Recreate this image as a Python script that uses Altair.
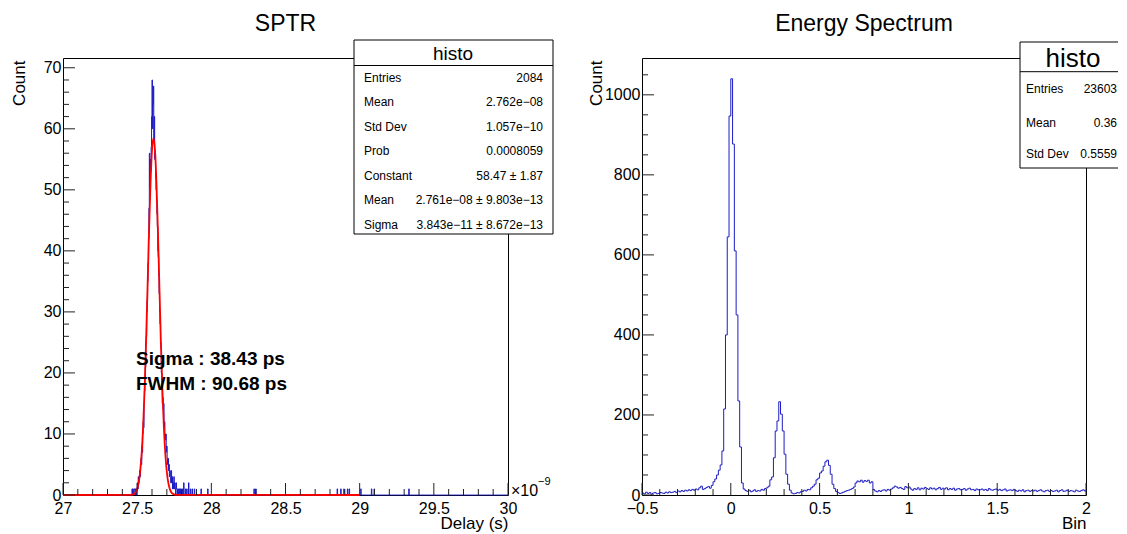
import altair as alt
import pandas as pd

FONT = "Liberation Sans"
HIST_BLUE = "#1c1cc4"
FIT_RED = "#ff0000"
INK = "#000000"

# ---------------- SPTR (left panel) data ----------------
sptr_range = [27.0, 30.0]          # x10^-9 s
sptr_bin_width = 0.003
sptr_peak_first_bin = 27.465
sptr_peak_counts = [
    1, 0, 1, 0, 0, 1, 1, 0, 1, 0,          # 27.465 ...
    1, 1, 2, 1, 3, 2, 3, 4, 3, 5,          # 27.495 ...
    6, 5, 8, 7, 10, 12, 11, 15, 17, 19,    # 27.525 ...
    21, 25, 26, 30, 32, 35, 38, 42, 47, 56, # 27.555 ...
    50, 55, 53, 57, 62, 68, 60, 64, 67, 58, # 27.585 ...
    62, 55, 56, 52, 50, 48, 46, 44, 40, 39, # 27.615 ...
    36, 33, 30, 28, 25, 24, 20, 18, 15, 16, # 27.645 ...
    14, 15, 11, 12, 10, 9, 10, 7, 8, 6,     # 27.675 ...
    5, 6, 4, 5, 3, 4, 3, 2, 4, 2,           # 27.705 ...
    3, 1, 2, 1, 3, 1, 2, 1, 0, 2,           # 27.735 ...
    1, 1, 0, 1, 0, 1, 1, 0, 1, 0, 1,        # 27.765 ...
]
sptr_tail_x = [27.804, 27.813, 27.825, 27.834, 27.846, 27.858, 27.870, 27.885,
               27.930, 27.975, 28.287, 28.299, 28.848, 28.872, 28.893, 28.917,
               28.929, 29.007, 29.079, 29.097, 29.331]
sptr_tail_counts = [1, 2, 1, 1, 2, 1, 1, 1, 1, 1, 1, 1, 1, 1, 1, 1, 1, 1, 1, 1, 1]

# Gaussian fit curve (red)
fit_x = [27.00, 27.45, 27.46, 27.47, 27.48, 27.49, 27.50, 27.51, 27.52, 27.53,
         27.54, 27.55, 27.56, 27.57, 27.58, 27.59, 27.60, 27.61, 27.62, 27.63,
         27.64, 27.65, 27.66, 27.67, 27.68, 27.69, 27.70, 27.71, 27.72, 27.73,
         27.74, 27.75, 27.76, 27.77, 29.00]
fit_y = [0.0, 0.01, 0.03, 0.08, 0.19, 0.45, 0.97, 1.98, 3.77, 6.70,
         11.13, 17.28, 25.08, 34.02, 43.12, 51.07, 56.52, 58.47, 56.52, 51.07,
         43.12, 34.02, 25.08, 17.28, 11.13, 6.70, 3.77, 1.98, 0.97, 0.45,
         0.19, 0.08, 0.03, 0.01, 0.0]

# ---------------- Energy spectrum (right panel) data ----------------
spec_range = [-0.5, 2.0]
spec_bin_width = 0.01
spec_counts = [
    5, 3, 7, 4, 6, 2, 5, 6, 3, 4,              # -0.50
    6, 5, 4, 7, 5, 8, 6, 7, 9, 6,              # -0.40
    10, 8, 11, 9, 12, 10, 13, 11, 14, 12,      # -0.30
    15, 13, 18, 22, 14, 16, 19, 21, 17, 24,    # -0.20
    33, 40, 50, 62, 75, 110, 215, 400, 645, 947,  # -0.10
    1040, 877, 610, 450, 235, 120, 30, 15, 11, 9, # 0.00
    12, 8, 10, 13, 9, 11, 10, 14, 12, 16,      # 0.10
    18, 22, 38, 45, 93, 160, 185, 233, 202, 160,  # 0.20
    102, 52, 27, 12, 5, 3, 4, 6, 5, 8,         # 0.30
    9, 12, 10, 14, 13, 18, 22, 27, 38, 42,     # 0.40
    55, 60, 72, 83, 87, 74, 52, 27, 16, 9,     # 0.50
    6, 4, 5, 7, 9, 11, 12, 14, 16, 20,         # 0.60
    30, 35, 33, 37, 32, 36, 34, 37, 30, 33,    # 0.70
    14, 10, 8, 11, 9, 12, 13, 10, 14, 12,      # 0.80
    15, 18, 22, 20, 17, 19, 16, 14, 21, 18,    # 0.90
    20, 15, 12, 16, 14, 18, 13, 17, 15, 19,    # 1.00
    16, 14, 18, 15, 17, 13, 16, 19, 14, 17,    # 1.10
    15, 18, 13, 16, 14, 17, 12, 15, 16, 13,    # 1.20
    14, 16, 12, 15, 17, 13, 14, 11, 15, 13,    # 1.30
    13, 15, 12, 14, 11, 16, 13, 12, 14, 15,    # 1.40
    12, 14, 11, 13, 15, 10, 12, 13, 11, 14,    # 1.50
    11, 9, 12, 10, 13, 8, 11, 12, 9, 11,       # 1.60
    10, 12, 9, 11, 13, 10, 8, 11, 12, 9,       # 1.70
    11, 9, 10, 12, 8, 11, 13, 9, 10, 12,       # 1.80
    9, 11, 10, 8, 12, 10, 9, 11, 13, 10,       # 1.90
]

# ---------------- axis ticks / labels ----------------
left_x_major = [27, 27.5, 28, 28.5, 29, 29.5, 30]
left_x_minor = [round(27 + 0.1 * i, 2) for i in range(31) if i % 5 != 0]
left_y_major = [0, 10, 20, 30, 40, 50, 60, 70]
left_y_minor = [v for v in range(0, 71, 2) if v % 10 != 0]
right_x_major = [-0.5, 0, 0.5, 1, 1.5, 2]
right_x_minor = [round(-0.5 + 0.1 * i, 2) for i in range(26) if i % 5 != 0]
right_y_major = [0, 200, 400, 600, 800, 1000]
right_y_minor = [v for v in range(0, 1051, 50) if v % 200 != 0]

left_stats_labels = ["Entries", "Mean", "Std Dev", "Prob", "Constant", "Mean", "Sigma"]
left_stats_values = ["2084", "2.762e\u221208", "1.057e\u221210", "0.0008059",
                     "58.47 \u00b1 1.87", "2.761e\u221208 \u00b1 9.803e\u221213",
                     "3.843e\u221211 \u00b1 8.672e\u221213"]
right_stats_labels = ["Entries", "Mean", "Std Dev"]
right_stats_values = ["23603", "0.36", "0.5559"]
annot_lines = ["Sigma : 38.43 ps", "FWHM : 90.68 ps"]

# ---------------- build tables ----------------
n_l = int(round((sptr_range[1] - sptr_range[0]) / sptr_bin_width))
cnt_l = [0] * n_l
i0 = int(round((sptr_peak_first_bin - sptr_range[0]) / sptr_bin_width))
for k, c in enumerate(sptr_peak_counts):
    cnt_l[i0 + k] = c
for xv, c in zip(sptr_tail_x, sptr_tail_counts):
    cnt_l[int((xv - sptr_range[0]) / sptr_bin_width + 1e-9)] += c
hist_l = pd.DataFrame({
    "x": [sptr_range[0] + i * sptr_bin_width for i in range(n_l)] + [sptr_range[1]],
    "y": cnt_l + [cnt_l[-1]],
})
fit_df = pd.DataFrame({"x": fit_x, "y": fit_y})

n_r = len(spec_counts)
hist_r = pd.DataFrame({
    "x": [spec_range[0] + i * spec_bin_width for i in range(n_r)] + [spec_range[1]],
    "y": spec_counts + [spec_counts[-1]],
})

one = pd.DataFrame({"k": [0]})

PW_L, PW_R, PH = 445, 444, 437


def x_axis(values, title, w):
    return alt.Axis(values=values, format="~g", ticks=False, tickSize=0, domain=False,
                    grid=False, labelFont=FONT, labelFontSize=16, labelColor=INK,
                    labelPadding=5, labelFlush=False, labelOverlap=False,
                    title=title, titleFont=FONT, titleFontSize=17, titleFontWeight="normal",
                    titleColor=INK, titleX=w, titleY=28, titleAlign="right",
                    titleBaseline="middle")


def y_axis(values, tx):
    return alt.Axis(values=values, format="d", ticks=False, tickSize=0, domain=False,
                    grid=False, labelFont=FONT, labelFontSize=16, labelColor=INK,
                    labelPadding=2, labelFlush=False, labelOverlap=False,
                    title="Count", titleFont=FONT, titleFontSize=17, titleFontWeight="normal",
                    titleColor=INK, titleX=tx, titleY=2, titleAngle=270,
                    titleAlign="right", titleBaseline="middle")


def txt(s, x, y, size, align="left", weight="normal", baseline="middle"):
    return alt.Chart(one).mark_text(font=FONT, fontSize=size, align=align, baseline=baseline,
                                    fontWeight=weight, color=INK).encode(
        x=alt.value(x), y=alt.value(y), text=alt.value(s))


def tick_layers(xenc_field, yenc_field, xmaj, xmin, ymaj, ymin):
    layers = []
    for vals, ln in ((xmaj, 12), (xmin, 6)):
        layers.append(alt.Chart(pd.DataFrame({"x": vals})).mark_rule(color="#222", strokeWidth=1)
                      .encode(x=xenc_field, y=alt.value(PH), y2=alt.value(PH - ln)))
    for vals, ln in ((ymaj, 12), (ymin, 6)):
        layers.append(alt.Chart(pd.DataFrame({"y": vals})).mark_rule(color="#222", strokeWidth=1)
                      .encode(y=yenc_field, x=alt.value(0), x2=alt.value(ln)))
    return layers


# ---------------- left panel ----------------
xL = alt.X("x:Q", scale=alt.Scale(domain=sptr_range, nice=False, zero=False),
           axis=x_axis(left_x_major, "Delay (s)", PW_L))
yL = alt.Y("y:Q", scale=alt.Scale(domain=[0, 71.6], nice=False, zero=False),
           axis=y_axis(left_y_major, -44))

left_layers = [
    alt.Chart(one).mark_rect(opacity=0).encode(
        x=alt.value(-54), x2=alt.value(-53), y=alt.value(-49), y2=alt.value(-48)),
    alt.Chart(hist_l).mark_line(interpolate="step-after", color=HIST_BLUE, strokeWidth=1)
    .encode(x=xL, y=yL),
    alt.Chart(fit_df).mark_line(interpolate="monotone", color=FIT_RED, strokeWidth=1.8)
    .encode(x=xL, y=yL),
]
left_layers += tick_layers(xL, yL, left_x_major, left_x_minor, left_y_major, left_y_minor)
left_layers += [
    alt.Chart(one).mark_rect(fill="white", stroke=INK, strokeWidth=1).encode(
        x=alt.value(291), x2=alt.value(490), y=alt.value(-18), y2=alt.value(176)),
    alt.Chart(one).mark_rule(color=INK, strokeWidth=1).encode(
        x=alt.value(291), x2=alt.value(490), y=alt.value(7.5)),
    txt("histo", 390, -4.5, 19, align="center"),
]
for i, (lab, val) in enumerate(zip(left_stats_labels, left_stats_values)):
    yy = 19.7 + i * 24.55
    left_layers.append(txt(lab, 301, yy, 12))
    left_layers.append(txt(val, 480, yy, 12, align="right"))
for i, s in enumerate(annot_lines):
    left_layers.append(txt(s, 73, 301 + i * 25, 19, weight="bold"))
left_layers += [
    txt("\u00d710", 448, 433, 16),
    txt("\u22129", 475, 424, 11),
    txt("SPTR", PW_L / 2, -27, 23, align="center", baseline="alphabetic"),
]
left = alt.layer(*left_layers).properties(width=PW_L, height=PH)

# ---------------- right panel ----------------
xR = alt.X("x:Q", scale=alt.Scale(domain=spec_range, nice=False, zero=False),
           axis=x_axis(right_x_major, "Bin", PW_R))
yR = alt.Y("y:Q", scale=alt.Scale(domain=[0, 1092], nice=False, zero=False),
           axis=y_axis(right_y_major, -46))

BOX_R = 476   # right box right edge (page edge)
right_layers = [
    alt.Chart(hist_r).mark_line(interpolate="step-after", color=HIST_BLUE, strokeWidth=1)
    .encode(x=xR, y=yR),
]
right_layers += tick_layers(xR, yR, right_x_major, right_x_minor, right_y_major, right_y_minor)
right_layers += [
    alt.Chart(one).mark_rect(fill="white").encode(
        x=alt.value(378), x2=alt.value(BOX_R), y=alt.value(-16), y2=alt.value(110)),
    alt.Chart(one).mark_rule(color=INK, strokeWidth=1).encode(
        x=alt.value(378), x2=alt.value(BOX_R), y=alt.value(-16)),
    alt.Chart(one).mark_rule(color=INK, strokeWidth=1).encode(
        x=alt.value(378), x2=alt.value(BOX_R), y=alt.value(110)),
    alt.Chart(one).mark_rule(color=INK, strokeWidth=1).encode(
        x=alt.value(378), x2=alt.value(BOX_R), y=alt.value(13.7)),
    alt.Chart(one).mark_rule(color=INK, strokeWidth=1).encode(
        x=alt.value(378), y=alt.value(-16), y2=alt.value(110)),
    txt("histo", 431, 0.5, 26, align="center"),
]
for i, (lab, val) in enumerate(zip(right_stats_labels, right_stats_values)):
    yy = [31.3, 65.3, 96.3][i]
    right_layers.append(txt(lab, 384, yy, 12))
    right_layers.append(txt(val, BOX_R - 1, yy, 12, align="right"))
right_layers.append(txt("Energy Spectrum", PW_R / 2, -27, 23, align="center", baseline="alphabetic"))
right = alt.layer(*right_layers).properties(width=PW_R, height=PH)

chart = (
    alt.hconcat(left, right, spacing=134, bounds="flush")
    .properties(padding=0, background="white")
    .configure_view(stroke=INK, strokeWidth=1)
)

chart.save("out.html", embed_options={"renderer": "svg", "actions": False})
